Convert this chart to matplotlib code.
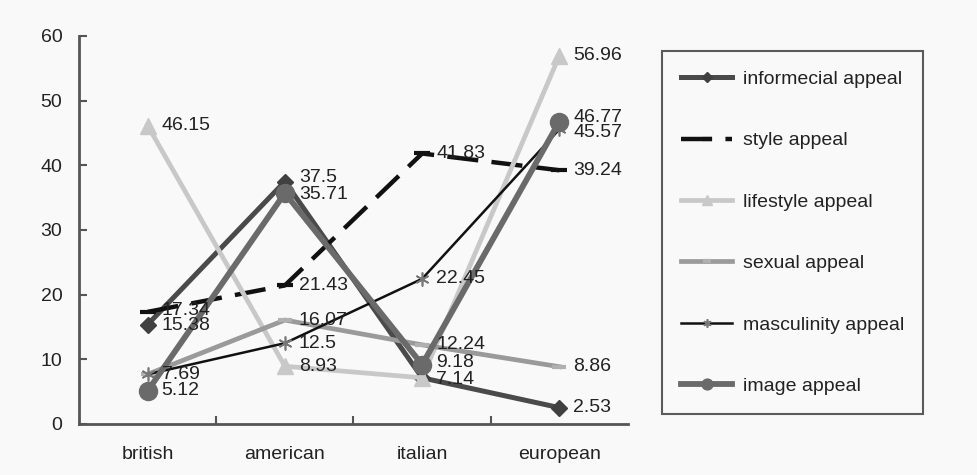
import matplotlib
matplotlib.use("Agg")
import matplotlib.pyplot as plt

plt.rcParams['font.family'] = ['Liberation Sans', 'DejaVu Sans']

categories = ["british", "american", "italian", "european"]
informecial = [15.38, 37.5, 7.14, 2.53]
style = [17.34, 21.43, 41.83, 39.24]
lifestyle = [46.15, 8.93, 7.14, 56.96]
sexual = [7.69, 16.07, 12.24, 8.86]
masculinity = [7.69, 12.5, 22.45, 45.57]
image = [5.12, 35.71, 9.18, 46.77]
y_ticks = [0, 10, 20, 30, 40, 50, 60]

series = [
    ("informecial appeal", informecial, dict(color="#4a4a4a", lw=3.6, marker="D", ms=8, mfc="#404040", mec="#404040")),
    ("style appeal", style, dict(color="#111111", lw=3.2, dashes=(7, 3), marker="_", ms=12, mew=3, mec="#111111")),
    ("lifestyle appeal", lifestyle, dict(color="#c8c8c8", lw=3.4, marker="^", ms=11, mfc="#c8c8c8", mec="#c8c8c8")),
    ("sexual appeal", sexual, dict(color="#9a9a9a", lw=3.4, marker="_", ms=10, mew=3, mec="#b0b0b0")),
    ("masculinity appeal", masculinity, dict(color="#111111", lw=1.8, marker=(6, 2, 0), ms=10, mew=1.2, mec="#777777")),
    ("image appeal", image, dict(color="#6a6a6a", lw=4.2, marker="o", ms=13, mfc="#6a6a6a", mec="#6a6a6a")),
]

# small vertical nudges (points) for crowded labels
nudge = {("informecial appeal", 1): 3, ("image appeal", 1): -1,
         ("image appeal", 3): 3, ("masculinity appeal", 3): -2.5,
         ("style appeal", 0): 1, ("informecial appeal", 0): -1,
         ("image appeal", 2): 1.5, ("informecial appeal", 2): -1.5}

fig = plt.figure(figsize=(9.78, 4.75), dpi=100, facecolor="#f9f9f9")
ax = fig.add_axes([79/978, 1-424/475, (628-79)/978, (424-36)/475])
ax.set_facecolor("#f9f9f9")

x = list(range(len(categories)))
handles = []
drawn = set()
for name, vals, kw in series:
    h, = ax.plot(x, vals, label=name, solid_joinstyle="miter", **kw)
    handles.append(h)
    for i, (xi, v) in enumerate(zip(x, vals)):
        if (xi, v) in drawn:
            continue
        drawn.add((xi, v))
        ax.annotate(f"{v:g}", (xi, v), xytext=(10, nudge.get((name, i), 0)), textcoords="offset points",
                    va="center", ha="left", fontsize=14, color="#222222")

ax.set_xlim(-0.5, 3.5)
ax.set_ylim(0, 60)
ax.set_yticks(y_ticks)
ax.set_xticks(x)
ax.set_xticklabels(categories)
ax.set_xticks([0.5, 1.5, 2.5], minor=True)
ax.tick_params(axis="x", which="major", length=0, pad=16, labelsize=14, labelcolor="#222222")
ax.tick_params(axis="x", which="minor", direction="in", length=6, width=1.5, color="#555555")
ax.tick_params(axis="y", direction="in", length=6, width=1.5, color="#555555", pad=12,
               labelsize=14, labelcolor="#222222")
for s in ["top", "right"]:
    ax.spines[s].set_visible(False)
for s in ["left", "bottom"]:
    ax.spines[s].set_color("#555555")
    ax.spines[s].set_linewidth(2)

leg = fig.legend(handles=handles, loc="upper left", bbox_to_anchor=(662/978, 1-51/475),
                 fontsize=14, labelspacing=2.25, handlelength=2.6, handletextpad=0.55,
                 borderpad=1.0, fancybox=False, frameon=True, borderaxespad=0, markerscale=0.6)
leg.get_frame().set_edgecolor("#333333")
leg.get_frame().set_linewidth(1.5)
leg.get_frame().set_facecolor("#f9f9f9")
for t in leg.get_texts():
    t.set_color("#222222")

fig.savefig("out.png", dpi=100, facecolor=fig.get_facecolor())
